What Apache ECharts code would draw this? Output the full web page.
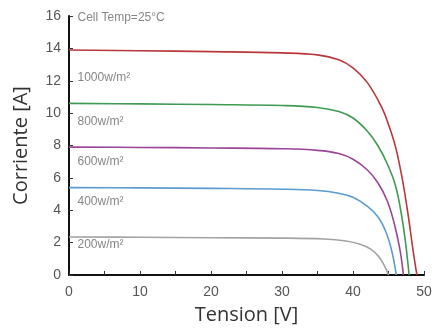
<!DOCTYPE html>
<html>
<head>
<meta charset="utf-8">
<script src="https://cdn.jsdelivr.net/npm/echarts@6/dist/echarts.min.js"></script>
<style>
  html, body { margin: 0; padding: 0; background: #fff; }
  #chart { width: 440px; height: 330px; }
</style>
</head>
<body>
<div id="chart"></div>
<script>
// curvas I-V: [tension V, corriente A]
const curve1000 = [[0, 13.9], [10, 13.85], [20, 13.8], [30, 13.72], [35, 13.6], [38, 13.3], [40, 12.8], [42, 11.9], [44, 10.4], [45, 9.3], [46, 7.9], [47, 5.8], [47.8, 3.6], [48.5, 1.4], [49, 0]];
const curve800 = [[0, 10.6], [10, 10.57], [20, 10.53], [30, 10.47], [35, 10.35], [38, 10.1], [40, 9.7], [42, 8.9], [43.5, 8.0], [45, 6.7], [46, 5.5], [46.8, 3.8], [47.4, 2.0], [47.9, 0]];
const curve600 = [[0, 7.9], [10, 7.88], [20, 7.85], [30, 7.8], [35, 7.7], [38, 7.5], [40, 7.15], [42, 6.5], [43.5, 5.7], [44.8, 4.6], [45.8, 3.2], [46.6, 1.6], [47.1, 0]];
const curve400 = [[0, 5.4], [10, 5.38], [20, 5.35], [30, 5.3], [35, 5.22], [38, 5.05], [40, 4.8], [42, 4.25], [43.5, 3.6], [44.6, 2.7], [45.4, 1.6], [46.1, 0]];
const curve200 = [[0, 2.35], [10, 2.33], [20, 2.3], [30, 2.28], [36, 2.22], [39, 2.1], [41, 1.9], [42.5, 1.6], [43.6, 1.15], [44.4, 0.6], [45, 0]];

const seriesNames = ['1000w/m²', '800w/m²', '600w/m²', '400w/m²', '200w/m²'];
const seriesColors = ['#b8373b', '#3f9a52', '#9a4595', '#5b9bd0', '#a3a3a3'];

// etiquetas de texto: [V, I, texto]
const notes = [
  [1.2, 15.9, 'Cell Temp=25°C'],
  [1.2, 12.2, '1000w/m²'],
  [1.2, 9.5, '800w/m²'],
  [1.2, 7.0, '600w/m²'],
  [1.2, 4.5, '400w/m²'],
  [1.2, 1.85, '200w/m²']
];

const xTicks = [0, 50, 5];
const yTicks = [0, 16, 2];

const chart = echarts.init(document.getElementById('chart'));

const curves = [curve1000, curve800, curve600, curve400, curve200];

const option = {
  animation: false,
  grid: { left: 69, right: 16, top: 16, bottom: 54 },
  xAxis: {
    type: 'value',
    min: xTicks[0],
    max: xTicks[1],
    interval: xTicks[2],
    name: 'Tension [V]',
    nameLocation: 'middle',
    nameGap: 30,
    nameTextStyle: { fontSize: 20, color: '#333', fontFamily: 'Open Sans' },
    axisLine: { lineStyle: { color: '#111', width: 2 } },
    axisTick: { inside: true, length: 4, lineStyle: { color: '#333' } },
    axisLabel: {
      color: '#555',
      fontSize: 14,
      margin: 10,
      formatter: v => (v % 10 === 0 ? String(v) : '')
    },
    splitLine: { show: false }
  },
  yAxis: {
    type: 'value',
    min: yTicks[0],
    max: yTicks[1],
    interval: yTicks[2],
    name: 'Corriente [A]',
    nameLocation: 'middle',
    nameGap: 38,
    nameTextStyle: { fontSize: 20, color: '#333', fontFamily: 'Open Sans' },
    axisLine: { show: true, lineStyle: { color: '#111', width: 2 } },
    axisTick: { show: true, inside: true, length: 4, lineStyle: { color: '#333' } },
    axisLabel: { color: '#555', fontSize: 14, margin: 8 },
    splitLine: { show: false }
  },
  series: curves.map((d, i) => ({
    name: seriesNames[i],
    type: 'line',
    data: d,
    smooth: 0.4,
    showSymbol: false,
    lineStyle: { color: seriesColors[i], width: 1.6 }
  })).concat([{
    type: 'scatter',
    symbolSize: 0,
    data: notes.map(n => ({ value: [n[0], n[1]], label: { formatter: n[2] } })),
    label: {
      show: true,
      position: 'right',
      distance: 0,
      color: '#666',
      fontSize: 12
    },
    silent: true
  }])
};

chart.setOption(option);
</script>
</body>
</html>
